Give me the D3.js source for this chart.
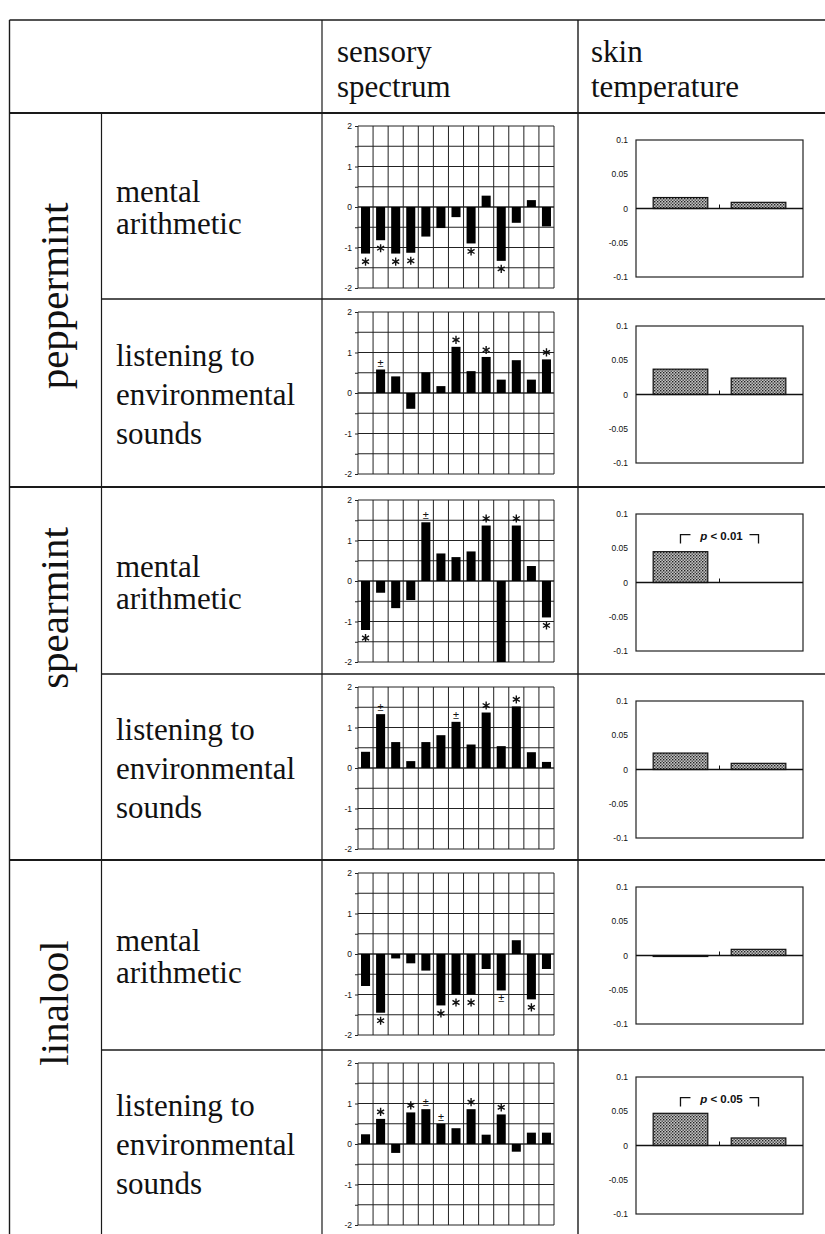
<!DOCTYPE html>
<html><head><meta charset="utf-8">
<script src="https://cdn.jsdelivr.net/npm/d3@7"></script>
<style>body{margin:0;background:#fff}</style>
</head><body><svg id="c" width="825" height="1234"></svg>
<script>
// ---------- data ----------
const groups = ["peppermint", "spearmint", "linalool"];
const taskLabels = [["mental", "arithmetic"], ["listening to", "environmental", "sounds"]];
const headerSensory = ["sensory", "spectrum"];
const headerSkin = ["skin", "temperature"];
const descriptors = ["1","2","3","4","5","6","7","8","9","10","11","12","13"];
const spectrumTicks = [-2, -1.5, -1, -0.5, 0, 0.5, 1, 1.5, 2];
const spectrumTickLabels = ["-2", "", "-1", "", "0", "", "1", "", "2"];
const skinTicks = [-0.1, -0.05, 0, 0.05, 0.1];
const skinTickLabels = ["-0.1", "-0.05", "0", "0.05", "0.1"];
const skinConditions = ["odor", "control"];

const spectrumPepMA = [-1.15, -0.82, -1.15, -1.13, -0.73, -0.52, -0.25, -0.9, 0.28, -1.33, -0.39, 0.17, -0.48];
const sigPepMA      = ["*", "*", "*", "*", "", "", "", "*", "", "*", "", "", ""];
const spectrumPepES = [null, 0.58, 0.41, -0.39, 0.51, 0.17, 1.14, 0.54, 0.89, 0.33, 0.81, 0.33, 0.83];
const sigPepES      = ["", "±", "", "", "", "", "*", "", "*", "", "", "", "*"];
const spectrumSpeMA = [-1.21, -0.29, -0.67, -0.47, 1.45, 0.68, 0.59, 0.73, 1.37, -2.0, 1.37, 0.37, -0.9];
const sigSpeMA      = ["*", "", "", "", "±", "", "", "", "*", "", "*", "", "*"];
const spectrumSpeES = [0.4, 1.33, 0.64, 0.17, 0.64, 0.81, 1.14, 0.58, 1.37, 0.54, 1.52, 0.39, 0.15];
const sigSpeES      = ["", "±", "", "", "", "", "±", "", "*", "", "*", "", ""];
const spectrumLinMA = [-0.79, -1.45, -0.11, -0.23, -0.41, -1.27, -1.0, -1.0, -0.37, -0.9, 0.34, -1.12, -0.37];
const sigLinMA      = ["", "*", "", "", "", "*", "*", "*", "", "±", "", "*", ""];
const spectrumLinES = [0.24, 0.62, -0.22, 0.78, 0.86, 0.5, 0.39, 0.86, 0.23, 0.73, -0.19, 0.28, 0.28];
const sigLinES      = ["", "*", "", "*", "±", "±", "", "*", "", "*", "", "", ""];

const skinPepMA = [0.016, 0.009];
const skinPepES = [0.037, 0.024];
const skinSpeMA = [0.045, 0];
const skinSpeES = [0.024, 0.009];
const skinLinMA = [-0.001, 0.009];
const skinLinES = [0.047, 0.011];
const pValues   = ["", "", "0.01", "", "", "0.05"];

// ---------- layout ----------
const rowsData = [
  {spec: spectrumPepMA, sig: sigPepMA, skin: skinPepMA},
  {spec: spectrumPepES, sig: sigPepES, skin: skinPepES},
  {spec: spectrumSpeMA, sig: sigSpeMA, skin: skinSpeMA},
  {spec: spectrumSpeES, sig: sigSpeES, skin: skinSpeES},
  {spec: spectrumLinMA, sig: sigLinMA, skin: skinLinMA},
  {spec: spectrumLinES, sig: sigLinES, skin: skinLinES}
];
rowsData.forEach((r, i) => { r.p = pValues[i]; r.task = taskLabels[i % 2]; });

const svg = d3.select("#c");
const LINE = "#1a1a1a";
const SERIF = "'Liberation Serif','Times New Roman',serif";
const SANS = "'Liberation Sans',Arial,sans-serif";
const tableTop = 20, tableLeft = 9.5, colA = 101.5, colB = 322, colC = 578, tableRight = 830;
const rowTops = [113, 299, 487, 674, 860, 1050];
const rowBottom = i => (i < 5 ? rowTops[i + 1] : 1240);

// pattern for skin-temperature bars
const defs = svg.append("defs");
const pat = defs.append("pattern").attr("id", "dots").attr("width", 3).attr("height", 3)
  .attr("patternUnits", "userSpaceOnUse");
pat.append("rect").attr("width", 3).attr("height", 3).attr("fill", "#c4c4c4");
pat.append("rect").attr("x", 0).attr("y", 0).attr("width", 1.4).attr("height", 1.4).attr("fill", "#222");
pat.append("rect").attr("x", 1.5).attr("y", 1.5).attr("width", 1.4).attr("height", 1.4).attr("fill", "#444");

// ---------- table lines ----------
const tl = svg.append("g").attr("stroke", LINE).attr("fill", "none");
tl.append("line").attr("x1", tableLeft).attr("x2", tableRight).attr("y1", tableTop).attr("y2", tableTop).attr("stroke-width", 1.6);
tl.append("line").attr("x1", tableLeft).attr("x2", tableLeft).attr("y1", tableTop).attr("y2", 1240).attr("stroke-width", 1.4);
tl.append("line").attr("x1", colA).attr("x2", colA).attr("y1", rowTops[0]).attr("y2", 1240).attr("stroke-width", 1.2);
tl.append("line").attr("x1", colB).attr("x2", colB).attr("y1", tableTop).attr("y2", 1240).attr("stroke-width", 1.2);
tl.append("line").attr("x1", colC).attr("x2", colC).attr("y1", tableTop).attr("y2", 1240).attr("stroke-width", 1.4);
rowTops.forEach((y, i) => {
  tl.append("line").attr("x1", i % 2 === 0 ? tableLeft : colA).attr("x2", tableRight)
    .attr("y1", y).attr("y2", y).attr("stroke-width", i % 2 === 0 ? 1.8 : 1.3);
});

// ---------- header text ----------
const hdr = svg.append("g").attr("font-family", SERIF).attr("font-size", 31).attr("fill", "#111");
headerSensory.forEach((t, i) => hdr.append("text").attr("x", 337).attr("y", 62 + i * 35).text(t));
headerSkin.forEach((t, i) => hdr.append("text").attr("x", 591).attr("y", 62 + i * 35).text(t));

// ---------- group labels ----------
const groupCenters = [296, 608, 1003];
groups.forEach((g, i) => {
  svg.append("text").attr("transform", `translate(68,${groupCenters[i]}) rotate(-90)`)
    .attr("text-anchor", "middle").attr("font-family", SERIF).attr("font-size", 41)
    .attr("fill", "#111").text(g);
});

// ---------- row task labels ----------
rowsData.forEach((r, i) => {
  const top = rowTops[i], bot = rowBottom(i);
  const lh = r.task.length === 2 ? 32 : 39;
  const mid = (top + Math.min(bot, 1236)) / 2;
  const first = mid - (r.task.length - 1) * lh / 2 + 12;
  r.task.forEach((t, k) => {
    svg.append("text").attr("x", 116).attr("y", first + k * lh)
      .attr("font-family", SERIF).attr("font-size", 31).attr("fill", "#111").text(t);
  });
});

// ---------- sensory spectrum charts ----------
const SP_L = 358, SP_R = 554, SP_OFF = 13, SP_H = 162;
const star = d3.symbol(d3.symbolAsterisk, 46);
rowsData.forEach((r, i) => {
  const top = rowTops[i] + SP_OFF;
  const g = svg.append("g");
  const x = d3.scaleBand().domain(descriptors).range([SP_L, SP_R]).paddingInner(0.4).paddingOuter(0.2);
  const y = d3.scaleLinear().domain([-2, 2]).range([top + SP_H, top]);
  // horizontal grid
  g.selectAll(".hg").data(spectrumTicks).join("line")
    .attr("x1", SP_L).attr("x2", SP_R).attr("y1", d => y(d)).attr("y2", d => y(d))
    .attr("stroke", "#222").attr("stroke-width", d => d === 0 ? 1.3 : 1);
  // vertical grid (category boundaries)
  const bounds = descriptors.map(d => x(d) - x.step() * x.paddingInner() / 2).concat([SP_R]);
  g.selectAll(".vg").data(bounds).join("line")
    .attr("x1", d => d).attr("x2", d => d).attr("y1", y(2)).attr("y2", y(-2))
    .attr("stroke", "#222").attr("stroke-width", 1);
  // axis
  const ax = g.append("g").attr("transform", `translate(${SP_L},0)`)
    .call(d3.axisLeft(y).tickValues(spectrumTicks).tickSize(3).tickPadding(3)
      .tickFormat((d, k) => spectrumTickLabels[k]));
  ax.select(".domain").remove();
  ax.selectAll("line").attr("stroke", "#222");
  ax.selectAll("text").attr("font-family", SANS).attr("font-size", 8.5).attr("fill", "#111");
  // bars
  const vals = r.spec.map((v, k) => ({k: descriptors[k], v, s: r.sig[k]})).filter(d => d.v !== null);
  g.selectAll(".bar").data(vals).join("rect")
    .attr("x", d => x(d.k)).attr("width", x.bandwidth())
    .attr("y", d => y(Math.max(0, d.v))).attr("height", d => Math.abs(y(d.v) - y(0)))
    .attr("fill", "#000");
  // significance marks: asterisks
  g.selectAll(".star").data(vals.filter(d => d.s === "*")).join("path")
    .attr("d", star)
    .attr("transform", d => `translate(${x(d.k) + x.bandwidth() / 2},${d.v < 0 ? y(d.v) + 8 : y(d.v) - 7})`)
    .attr("fill", "none").attr("stroke", "#111").attr("stroke-width", 1.4);
  // significance marks: plus-minus
  g.selectAll(".pm").data(vals.filter(d => d.s === "±")).join("text")
    .attr("x", d => x(d.k) + x.bandwidth() / 2)
    .attr("y", d => d.v < 0 ? y(d.v) + 12 : y(d.v) - 3)
    .attr("text-anchor", "middle").attr("font-family", SANS)
    .attr("font-size", 11).attr("fill", "#111").text(d => d.s);
});

// ---------- skin temperature charts ----------
const SK_L = 636, SK_R = 803, SK_OFF = 27, SK_H = 137;
rowsData.forEach((r, i) => {
  const top = rowTops[i] + SK_OFF;
  const g = svg.append("g");
  const x = d3.scaleBand().domain(skinConditions).range([SK_L, SK_R]).paddingInner(0.3).paddingOuter(0.22);
  const y = d3.scaleLinear().domain([-0.1, 0.1]).range([top + SK_H, top]);
  g.append("rect").attr("x", SK_L).attr("y", y(0.1)).attr("width", SK_R - SK_L)
    .attr("height", y(-0.1) - y(0.1)).attr("fill", "none").attr("stroke", "#222").attr("stroke-width", 1.2);
  const ax = g.append("g").attr("transform", `translate(${SK_L},0)`)
    .call(d3.axisLeft(y).tickValues(skinTicks).tickSize(0).tickPadding(8)
      .tickFormat((d, k) => skinTickLabels[k]));
  ax.select(".domain").remove();
  ax.selectAll("text").attr("font-family", SANS).attr("font-size", 8.5).attr("fill", "#111");
  const vals = r.skin.map((v, k) => ({k: skinConditions[k], v}));
  g.selectAll(".bar").data(vals.filter(d => d.v !== 0)).join("rect")
    .attr("x", d => x(d.k)).attr("width", x.bandwidth())
    .attr("y", d => y(Math.max(0, d.v))).attr("height", d => Math.max(1, Math.abs(y(d.v) - y(0))))
    .attr("fill", "url(#dots)").attr("stroke", "#111").attr("stroke-width", 1.2);
  // zero line and centre tick
  g.append("line").attr("x1", SK_L).attr("x2", SK_R).attr("y1", y(0)).attr("y2", y(0))
    .attr("stroke", "#111").attr("stroke-width", 1.3);
  const midX = (SK_L + SK_R) / 2;
  g.append("line").attr("x1", midX).attr("x2", midX).attr("y1", y(0)).attr("y2", y(0) - 4)
    .attr("stroke", "#111").attr("stroke-width", 1);
  // p-value bracket
  if (r.p) {
    const c1 = x(skinConditions[0]) + x.bandwidth() / 2;
    const c2 = x(skinConditions[1]) + x.bandwidth() / 2;
    const yb = y(0.07);
    g.append("path").attr("d", `M${c1},${yb + 9}V${yb}H${c1 + 10}`).attr("fill", "none").attr("stroke", "#111").attr("stroke-width", 1.3);
    g.append("path").attr("d", `M${c2 - 9},${yb}H${c2}V${yb + 9}`).attr("fill", "none").attr("stroke", "#111").attr("stroke-width", 1.3);
    const t = g.append("text").attr("x", (c1 + c2) / 2 + 2).attr("y", yb + 5).attr("text-anchor", "middle")
      .attr("font-family", SANS).attr("font-size", 11.5).attr("font-weight", "bold").attr("fill", "#111");
    t.append("tspan").attr("font-style", "italic").text("p");
    t.append("tspan").text(" < " + r.p);
  }
});
</script></body></html>
